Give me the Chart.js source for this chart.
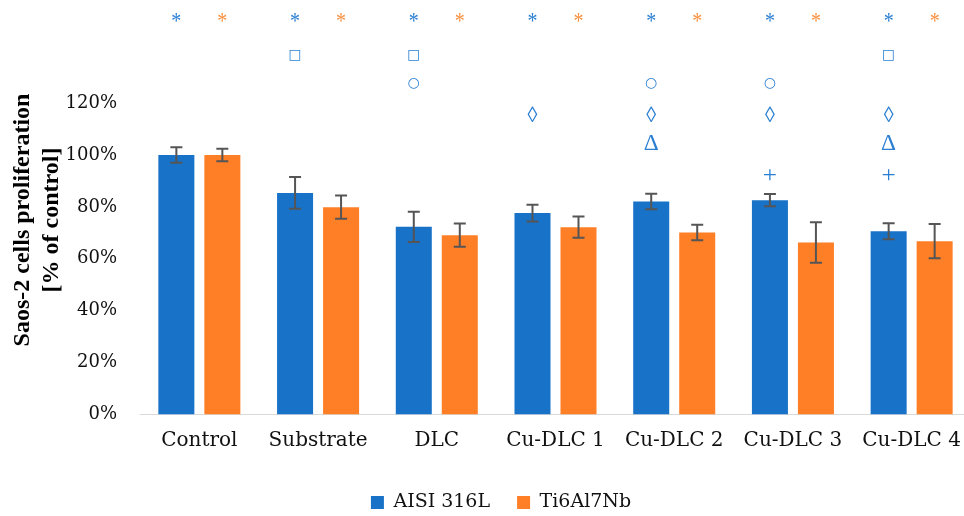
<!DOCTYPE html>
<html>
<head>
<meta charset="utf-8">
<script src="https://cdn.jsdelivr.net/npm/chart.js@4/dist/chart.umd.min.js"></script>
<style>
  html, body { margin: 0; padding: 0; background: #ffffff; overflow: hidden; }
  #wrap { width: 1000px; height: 522px; }
</style>
</head>
<body>
<div id="wrap"><canvas id="chart" width="1000" height="522"></canvas></div>
<script>
// Saos-2 proliferation on coated substrates, % of control
const categories = ['Control', 'Substrate', 'DLC', 'Cu-DLC 1', 'Cu-DLC 2', 'Cu-DLC 3', 'Cu-DLC 4'];
const seriesNames = ['AISI 316L', 'Ti6Al7Nb'];
const aisiValues = [100, 85.4, 72.3, 77.6, 82.1, 82.6, 70.6];
const aisiErrors = [3.0, 6.1, 5.8, 3.2, 3.0, 2.4, 3.1];
const tiValues = [100, 79.9, 69.1, 72.2, 70.1, 66.3, 66.8];
const tiErrors = [2.4, 4.5, 4.5, 4.1, 3.0, 7.8, 6.6];
// significance symbols above each bar
const aisiMarks = ['*', '*□', '*□○', '*◊', '*○◊Δ', '*○◊+', '*□◊Δ+'];
const tiMarks = ['*', '*', '*', '*', '*', '*', '*'];
const yTicks = [0, 20, 40, 60, 80, 100, 120];
const yTitle = ['Saos-2 cells proliferation', '[% of control]'];

const BLUE = '#1872c8';
const ORANGE = '#ff7f27';
const Y_MAX = 146.7;

// row (in axis units) where each symbol sits
const markLevel = { '*': 153.2, '□': 138.5, '○': 127.6, '◊': 115.8, 'Δ': 104.9, '+': 92.7 };
// glyph font and drawn box size
const glyphStyle = {
  '*': { font: '40px "Liberation Serif"', w: 9, h: 9 },
  '□': { font: '40px "DejaVu Sans"', w: 11, h: 11 },
  '○': { font: '40px "DejaVu Sans"', w: 11, h: 11 },
  '◊': { font: '40px "Liberation Serif"', w: 10, h: 16 },
  'Δ': { font: '40px "Liberation Serif"', w: 14, h: 15 },
  '+': { font: '40px "Liberation Serif"', w: 12, h: 12 }
};

function drawGlyph(ctx, ch, cx, cy, color) {
  const g = glyphStyle[ch];
  ctx.save();
  ctx.font = g.font;
  ctx.textAlign = 'left';
  ctx.textBaseline = 'alphabetic';
  const m = ctx.measureText(ch);
  const bw = m.actualBoundingBoxLeft + m.actualBoundingBoxRight;
  const bh = m.actualBoundingBoxAscent + m.actualBoundingBoxDescent;
  ctx.translate(cx, cy);
  ctx.scale(g.w / bw, g.h / bh);
  ctx.fillStyle = color;
  ctx.fillText(ch, -(m.actualBoundingBoxRight - m.actualBoundingBoxLeft) / 2,
                   (m.actualBoundingBoxAscent - m.actualBoundingBoxDescent) / 2);
  ctx.restore();
}

const errorBars = {
  id: 'errorBars',
  afterDatasetsDraw(chart) {
    const ctx = chart.ctx;
    const y = chart.scales.y;
    [aisiErrors, tiErrors].forEach((errs, di) => {
      const vals = chart.data.datasets[di].data;
      chart.getDatasetMeta(di).data.forEach((bar, i) => {
        const top = y.getPixelForValue(vals[i] + errs[i]);
        const bot = y.getPixelForValue(vals[i] - errs[i]);
        ctx.save();
        ctx.strokeStyle = '#555555';
        ctx.lineWidth = 2;
        ctx.beginPath();
        ctx.moveTo(bar.x, top); ctx.lineTo(bar.x, bot);
        ctx.moveTo(bar.x - 6, top); ctx.lineTo(bar.x + 6, top);
        ctx.moveTo(bar.x - 6, bot); ctx.lineTo(bar.x + 6, bot);
        ctx.stroke();
        ctx.restore();
      });
    });
  }
};

const significance = {
  id: 'significance',
  afterDraw(chart) {
    const ctx = chart.ctx;
    const y = chart.scales.y;
    [[aisiMarks, '#2a7fd2'], [tiMarks, '#f7903f']].forEach(([marks, color], di) => {
      chart.getDatasetMeta(di).data.forEach((bar, i) => {
        Array.from(marks[i]).forEach(ch => {
          drawGlyph(ctx, ch, bar.x, y.getPixelForValue(markLevel[ch]), color);
        });
      });
    });
  }
};

const axisTitle = {
  id: 'axisTitle',
  afterDraw(chart) {
    const ctx = chart.ctx;
    ctx.save();
    ctx.fillStyle = '#000000';
    ctx.font = 'bold 24px "Liberation Serif"';
    ctx.textAlign = 'center';
    ctx.textBaseline = 'middle';
    const cy = 220;
    [22.5, 51.5].forEach((x, k) => {
      ctx.save();
      ctx.translate(x, cy);
      ctx.rotate(-Math.PI / 2);
      ctx.fillText(yTitle[k], 0, 0);
      ctx.restore();
    });
    ctx.restore();
  }
};

new Chart(document.getElementById('chart'), {
  type: 'bar',
  data: {
    labels: categories,
    datasets: [
      { label: seriesNames[0], data: aisiValues, backgroundColor: BLUE, borderWidth: 0,
        categoryPercentage: 0.775, barPercentage: 0.783 },
      { label: seriesNames[1], data: tiValues, backgroundColor: ORANGE, borderWidth: 0,
        categoryPercentage: 0.775, barPercentage: 0.783 }
    ]
  },
  plugins: [errorBars, significance, axisTitle],
  options: {
    responsive: false,
    animation: false,
    devicePixelRatio: 1,
    layout: { padding: { left: 31, right: 29, top: 8.4, bottom: 0 } },
    plugins: {
      legend: {
        position: 'bottom',
        labels: {
          boxWidth: 13, boxHeight: 13, padding: 27, color: '#111111',
          font: { family: 'DejaVu Serif', size: 19 }
        }
      },
      tooltip: { enabled: false }
    },
    scales: {
      x: {
        grid: { display: false, drawTicks: false },
        border: { display: true, color: '#d9d9d9', width: 1 },
        ticks: { color: '#111111', font: { family: 'DejaVu Serif', size: 20 }, padding: 14,
                 maxRotation: 0, autoSkip: false },
        afterFit(s) { s.height = 51.5; }
      },
      y: {
        min: 0, max: Y_MAX,
        grid: { display: false, drawTicks: false },
        border: { display: false },
        afterBuildTicks(s) { s.ticks = yTicks.concat([Y_MAX]).map(v => ({ value: v })); },
        ticks: {
          callback: v => (yTicks.includes(v) ? v + '%' : null),
          padding: 23, color: '#111111', font: { family: 'DejaVu Serif', size: 18 }
        },
        afterFit(s) { s.width = 109; }
      }
    }
  }
});
</script>
</body>
</html>
